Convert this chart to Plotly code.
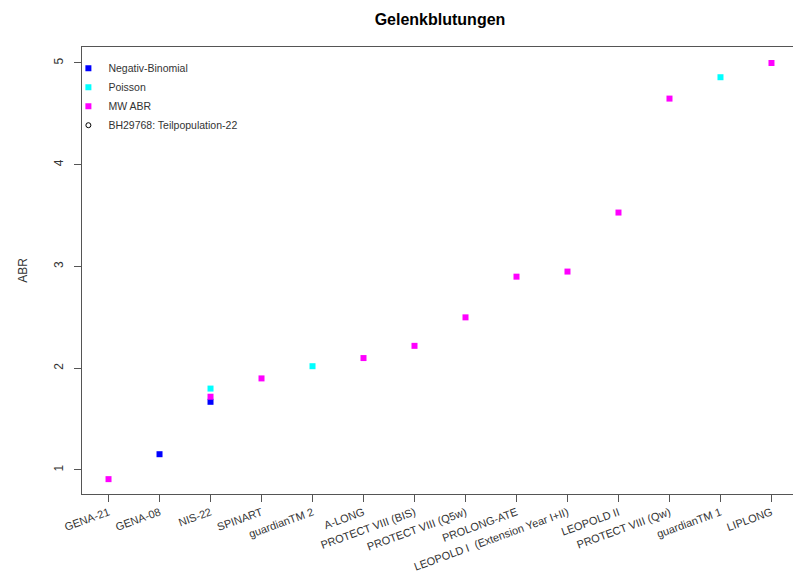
import plotly.graph_objects as go

categories = ["GENA-21", "GENA-08", "NIS-22", "SPINART", "guardianTM 2", "A-LONG",
              "PROTECT VIII (BIS)", "PROTECT VIII (Q5w)", "PROLONG-ATE",
              "LEOPOLD I  (Extension Year I+II)", "LEOPOLD II", "PROTECT VIII (Qw)",
              "guardianTM 1", "LIPLONG"]
negbin = [None, 1.155, 1.67, None, None, None, None, None, None, None, None, None, None, None]
poisson = [None, None, 1.80, None, 2.02, None, None, None, None, None, None, None, 4.86, None]
mw_abr = [0.91, None, 1.72, 1.90, None, 2.10, 2.22, 2.50, 2.90, 2.95, 3.53, 4.65, None, 5.00]
y_ticks = [1, 2, 3, 4, 5]

font = "Liberation Sans, Arial, sans-serif"
fig = go.Figure()
fig.add_trace(go.Scatter(x=categories, y=negbin, mode="markers", name="Negativ-Binomial",
                         marker=dict(symbol="square", size=6, color="#0000FF")))
fig.add_trace(go.Scatter(x=categories, y=poisson, mode="markers", name="Poisson",
                         marker=dict(symbol="square", size=6, color="#00FFFF")))
fig.add_trace(go.Scatter(x=categories, y=mw_abr, mode="markers", name="MW ABR",
                         marker=dict(symbol="square", size=6, color="#FF00FF")))
fig.add_trace(go.Scatter(x=[None], y=[None], mode="markers", name="BH29768: Teilpopulation-22",
                         marker=dict(symbol="circle-open", size=5, color="#000000",
                                     line=dict(width=1))))

# the page body adds an 8px margin, so the figure is 8px smaller and margins shifted
fig.update_layout(
    width=793, height=574,
    margin=dict(l=74, r=3, t=39, b=88),
    paper_bgcolor="white", plot_bgcolor="white",
    font=dict(family=font, color="#333333"),
    title=dict(text="<b>Gelenkblutungen</b>", xref="paper", x=0.5, xanchor="center",
               yref="container", y=0.99, yanchor="top", pad=dict(t=0, b=0),
               font=dict(size=16, color="#000000")),
    showlegend=True,
    legend=dict(x=-0.019, y=0.985, xanchor="left", yanchor="top", bgcolor="rgba(0,0,0,0)",
                font=dict(size=10.5, color="#333333"), itemwidth=30, tracegroupgap=0,
                itemsizing="trace"),
    xaxis=dict(type="category", range=[-0.52, 13.52], tickangle=-20, automargin=False,
               showgrid=False, zeroline=False, showline=True, linecolor="#555555",
               mirror=True, ticks="outside", ticklen=7, tickcolor="#555555",
               tickfont=dict(size=11, color="#333333")),
    yaxis=dict(range=[0.764, 5.157], tickvals=y_ticks, tickangle=-90, automargin=False,
               showgrid=False, zeroline=False, showline=True, linecolor="#555555",
               mirror=True, ticks="outside", ticklen=7, tickcolor="#555555",
               ticklabelstandoff=6,
               tickfont=dict(size=12, color="#333333"),
               title=dict(text="ABR", font=dict(size=12, color="#333333"), standoff=22)),
)

fig.write_html("out.html")
